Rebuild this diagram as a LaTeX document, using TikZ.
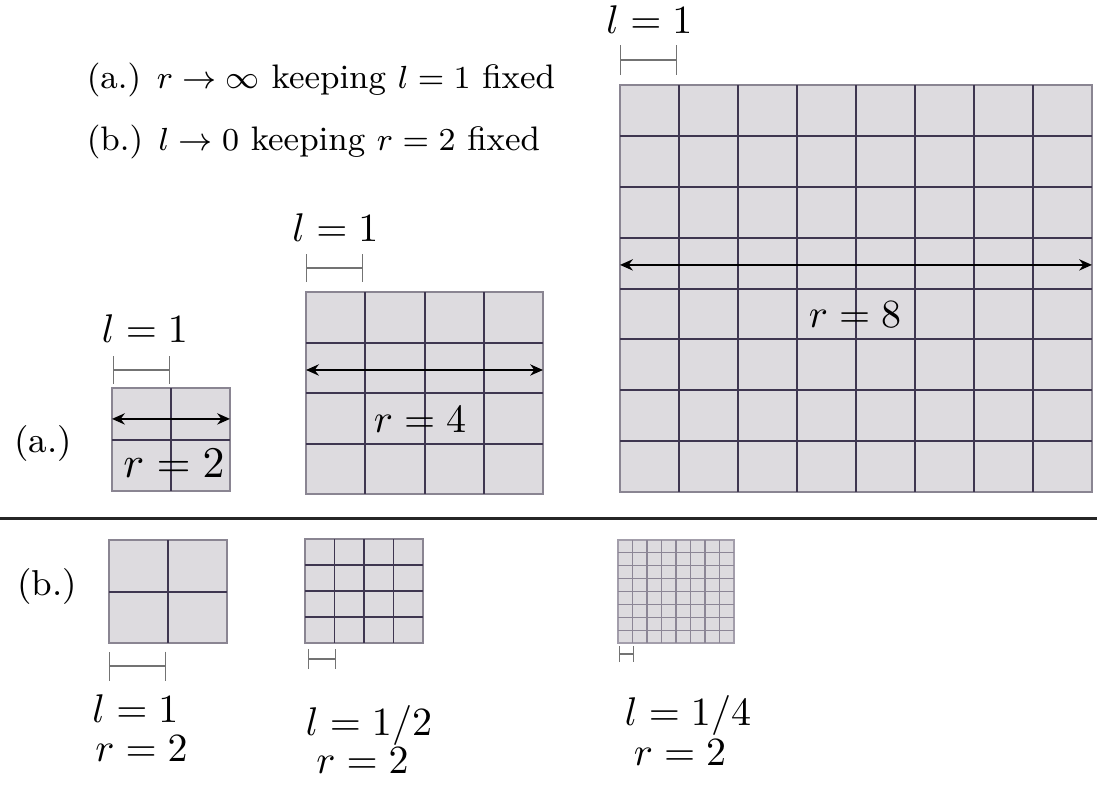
\documentclass[tikz,border=0pt]{standalone}
\usepackage{amsmath,amssymb}
\usepackage{xcolor}
\usepackage{tikz}
\usetikzlibrary{arrows.meta,calc}
\definecolor{cellfill}{RGB}{221,219,223}
\definecolor{linedark}{RGB}{62,54,80}
\definecolor{linegray}{RGB}{140,134,150}
\definecolor{edgegray}{RGB}{138,133,146}
\definecolor{bargray}{RGB}{115,115,115}

% inner lines of a square grid of n x n cells laid into the node #2
\newcommand{\cellgrid}[3][]{%
  \pgfmathtruncatemacro{\lastk}{#3-1}
  \foreach \k in {1,...,\lastk}{
    \draw[gridline,#1] ($(#2.north west)!\k/#3!(#2.north east)$) -- ($(#2.south west)!\k/#3!(#2.south east)$);
    \draw[gridline,#1] ($(#2.north west)!\k/#3!(#2.south west)$) -- ($(#2.north east)!\k/#3!(#2.south east)$);
  }}

\begin{document}
\begin{tikzpicture}[x=0.25pt,y=-0.25pt,
  gridbox/.style={rectangle,draw=edgegray,fill=cellfill,line width=0.45pt,
                  inner sep=0pt,outer sep=0pt},
  gridline/.style={draw=linedark,line width=0.5pt},
  span/.style={{Stealth[length=3.2pt,width=2.8pt]}-{Stealth[length=3.2pt,width=2.8pt]},
               line width=0.55pt,draw=black},
  unitbar/.style={draw=bargray,line width=0.35pt,{Bar[width=#1]}-{Bar[width=#1]}},
  lab/.style={anchor=base,inner sep=0pt},
  rule/.style={draw=black!85,line width=0.75pt}]
\useasboundingbox (0,0) rectangle (1102,785);

% the two limits
\node[anchor=base west,inner sep=0pt,font=\fontsize{8.5}{10}\selectfont] (lima) at (86,88)
  {(a.) $r \to \infty$ keeping $l = 1$ fixed};
\node[anchor=base west,inner sep=0pt,font=\fontsize{8.5}{10}\selectfont] (limb) at (86,150)
  {(b.) $l \to 0$ keeping $r = 2$ fixed};

% (a.) growing r
\node[lab,font=\fontsize{9}{10}\selectfont] (taga) at (43,452) {(a.)};
\node[gridbox,minimum width=29.5pt,minimum height=25.75pt] (ga1) at (171,439.5) {};
\node[gridbox,minimum width=59.25pt,minimum height=50.5pt] (ga2) at (424.5,393) {};
\node[gridbox,minimum width=118pt,minimum height=101.75pt] (ga3) at (856,288.5) {};
\cellgrid{ga1}{2}
\cellgrid{ga2}{4}
\cellgrid{ga3}{8}
\draw[span] ($(ga1.north west)!0.30!(ga1.south west)$) -- ($(ga1.north east)!0.30!(ga1.south east)$);
\draw[span] ($(ga2.north west)!0.386!(ga2.south west)$) -- ($(ga2.north east)!0.386!(ga2.south east)$);
\draw[span] ($(ga3.north west)!0.442!(ga3.south west)$) -- ($(ga3.north east)!0.442!(ga3.south east)$);
\node[lab,font=\fontsize{11}{12}\selectfont] (ra1) at (174,477) {$r = 2$};
\node[lab] (ra2) at (420,432) {$r = 4$};
\node[lab] (ra3) at (855,327) {$r = 8$};
\coordinate (ua1l) at (113,370); \coordinate (ua1r) at (170,370);
\coordinate (ua2l) at (306,268); \coordinate (ua2r) at (363,268);
\coordinate (ua3l) at (620,60);  \coordinate (ua3r) at (677,60);
\draw[unitbar=7pt] (ua1l) -- (ua1r);
\draw[unitbar=7pt] (ua2l) -- (ua2r);
\draw[unitbar=7.5pt] (ua3l) -- (ua3r);
\node[lab] (la1) at (145,342) {$l = 1$};
\node[lab] (la2) at (335.5,241) {$l = 1$};
\node[lab] (la3) at (649.5,33) {$l = 1$};

% separator
\coordinate (sepl) at (0,518); \coordinate (sepr) at (1097,518);
\draw[rule] (sepl) -- (sepr);

% (b.) shrinking l
\node[lab,font=\fontsize{9}{10}\selectfont] (tagb) at (47,595) {(b.)};
\node[gridbox,minimum width=29.5pt,minimum height=25.75pt] (gb1) at (168,591.5) {};
\node[gridbox,minimum width=29.5pt,minimum height=26pt] (gb2) at (364,591) {};
\node[gridbox,draw=linegray!80,line width=0.35pt,minimum width=29pt,minimum height=25.75pt] (gb3) at (676,591.5) {};
\cellgrid{gb1}{2}
\cellgrid[line width=0.4pt]{gb2}{4}
\cellgrid[draw=linegray,line width=0.3pt]{gb3}{8}
\coordinate (ub1l) at (109,666); \coordinate (ub1r) at (166,666);
\coordinate (ub2l) at (308,659); \coordinate (ub2r) at (336,659);
\coordinate (ub3l) at (619,654); \coordinate (ub3r) at (634,654);
\draw[unitbar=7.25pt] (ub1l) -- (ub1r);
\draw[unitbar=5pt] (ub2l) -- (ub2r);
\draw[unitbar=4pt] (ub3l) -- (ub3r);
\node[lab] (lb1) at (135.5,722) {$l = 1$};
\node[lab] (rb1) at (141.5,761) {$r = 2$};
\node[lab] (lb2) at (369,735) {$l = 1/2$};
\node[lab] (rb2) at (362.5,773) {$r = 2$};
\node[lab] (lb3) at (688,725) {$l = 1/4$};
\node[lab] (rb3) at (680,765) {$r = 2$};
\end{tikzpicture}
\end{document}
